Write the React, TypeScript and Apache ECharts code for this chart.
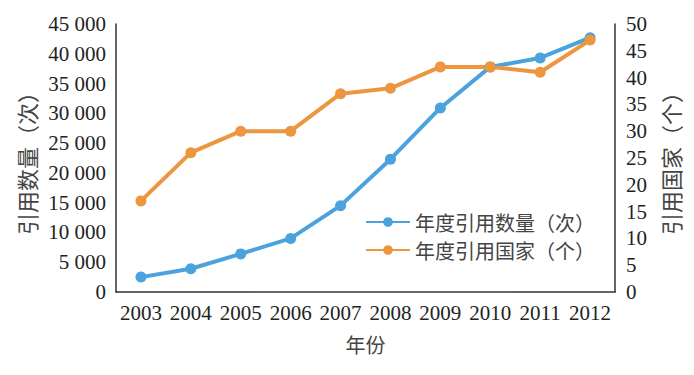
import React, { useEffect, useRef } from "react";
import * as echarts from "echarts";

const years = ["2003", "2004", "2005", "2006", "2007", "2008", "2009", "2010", "2011", "2012"];
const citations = [2500, 3900, 6400, 9000, 14500, 22300, 30900, 37800, 39300, 42700];
const countries = [17, 26, 30, 30, 37, 38, 42, 42, 41, 47];
const seriesNames = ["年度引用数量（次）", "年度引用国家（个）"];

const serif = "Liberation Serif";
const cjk = "Noto Sans CJK SC";

export default function App() {
  const ref = useRef<HTMLDivElement>(null);
  useEffect(() => {
    document.body.style.margin = "0";
    const chart = echarts.init(ref.current!, null, { renderer: "svg" });
    const numStyle = { fontFamily: serif, fontSize: 21, color: "#222" };
    chart.setOption({
      animation: false,
      backgroundColor: "#ffffff",
      textStyle: { fontFamily: serif },
      grid: { left: 116, right: 79, top: 24, bottom: 83 },
      legend: {
        left: 365,
        top: 212,
        padding: 0,
        orient: "vertical",
        itemWidth: 44,
        itemHeight: 12,
        itemGap: 8,
        textStyle: { fontFamily: cjk, fontSize: 20, color: "#444" },
        data: seriesNames,
      },
      xAxis: {
        type: "category",
        data: years,
        boundaryGap: true,
        name: "年份",
        nameLocation: "middle",
        nameGap: 42,
        nameTextStyle: { fontFamily: cjk, fontSize: 20, color: "#444" },
        axisLine: { lineStyle: { color: "#333", width: 1.5 } },
        axisTick: { inside: true, length: 6, lineStyle: { color: "#333", width: 1.5 } },
        axisLabel: { ...numStyle, interval: 0, margin: 10 },
      },
      yAxis: [
        {
          type: "value",
          min: 0,
          max: 45000,
          interval: 5000,
          name: "引用数量（次）",
          nameLocation: "middle",
          nameRotate: 90,
          nameGap: 77,
          nameTextStyle: { fontFamily: cjk, fontSize: 22, color: "#444" },
          axisLine: { show: true, lineStyle: { color: "#333", width: 1.5 } },
          axisTick: { show: false },
          splitLine: { show: false },
          axisLabel: {
            ...numStyle,
            margin: 10,
            formatter: (v: number) => {
              const s = String(v);
              return v >= 1000 ? s.slice(0, s.length - 3) + " " + s.slice(-3) : s;
            },
          },
        },
        {
          type: "value",
          min: 0,
          max: 50,
          interval: 5,
          position: "right",
          name: "引用国家（个）",
          nameLocation: "middle",
          nameRotate: 90,
          nameGap: 44,
          nameTextStyle: { fontFamily: cjk, fontSize: 22, color: "#444" },
          axisLine: { show: true, lineStyle: { color: "#333", width: 1.5 } },
          axisTick: { show: false },
          splitLine: { show: false },
          axisLabel: { ...numStyle, margin: 11 },
        },
      ],
      series: [
        {
          name: seriesNames[0],
          type: "line",
          yAxisIndex: 0,
          data: citations,
          symbol: "circle",
          symbolSize: 11,
          lineStyle: { width: 4, color: "#4aa3dc" },
          itemStyle: { color: "#4aa3dc" },
        },
        {
          name: seriesNames[1],
          type: "line",
          yAxisIndex: 1,
          data: countries,
          symbol: "circle",
          symbolSize: 11,
          lineStyle: { width: 4, color: "#ec9640" },
          itemStyle: { color: "#ec9640" },
        },
      ],
    });
    return () => chart.dispose();
  }, []);
  return <div ref={ref} style={{ width: 694, height: 375 }} />;
}
